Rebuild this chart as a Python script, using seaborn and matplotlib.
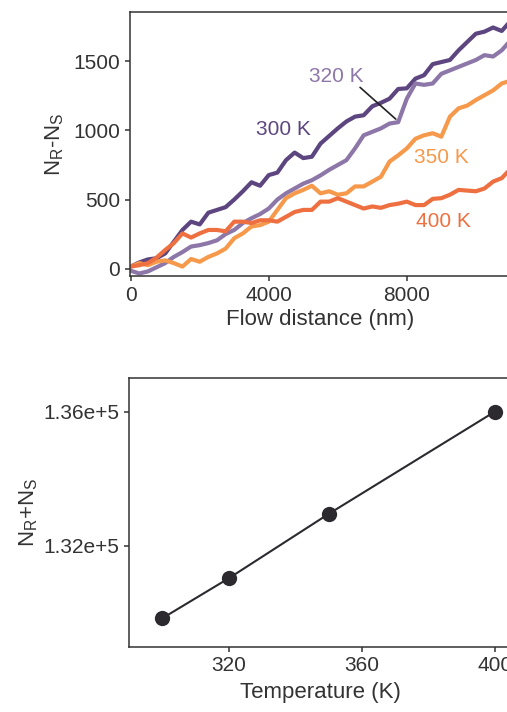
import pandas as pd
import matplotlib
matplotlib.use("Agg")
import matplotlib.pyplot as plt
import seaborn as sns

# flow distance grid (nm) and N_R - N_S
flow_nm = list(range(0, 11001, 250))

nrs_300 = [15, 45, 67, 75, 110, 195, 280, 340, 320, 405, 425, 445, 500, 560, 625,
           600, 677, 695, 785, 840, 800, 810, 905, 960, 1015, 1065, 1100, 1110, 1175,
           1200, 1230, 1300, 1305, 1375, 1400, 1480, 1495, 1510, 1580, 1640, 1700,
           1715, 1745, 1720, 1790]
nrs_320 = [-15, -35, -20, 10, 40, 85, 120, 160, 170, 185, 205, 250, 280, 330, 365,
           395, 435, 500, 545, 580, 615, 640, 675, 715, 750, 785, 870, 965, 990,
           1015, 1050, 1060, 1230, 1340, 1330, 1340, 1410, 1435, 1460, 1485, 1510,
           1545, 1535, 1580, 1650]
nrs_350 = [15, 40, 25, 50, 60, 40, 15, 70, 50, 85, 110, 145, 220, 255, 305,
           315, 340, 425, 510, 545, 570, 600, 545, 560, 535, 545, 595, 595, 630,
           665, 775, 820, 870, 940, 965, 980, 955, 1100, 1160, 1180, 1220, 1255,
           1290, 1340, 1360]
nrs_400 = [15, 25, 40, 80, 135, 185, 255, 225, 255, 280, 280, 270, 340, 340, 330,
           350, 350, 340, 375, 410, 425, 425, 485, 485, 510, 485, 460, 435, 450,
           440, 460, 470, 485, 460, 460, 505, 510, 535, 570, 565, 560, 580, 630,
           655, 720]

series_names = ["300 K", "320 K", "350 K", "400 K"]
series_colors = ["#5d4680", "#8d77a8", "#f6994b", "#ee7041"]

# bottom panel: N_R + N_S vs temperature
temps = [300, 320, 350, 400]
nr_plus_ns = [129833, 131027, 132946, 136000]

sns.set_theme(style="ticks")
plt.rcParams["font.family"] = ["Liberation Sans", "DejaVu Sans"]
plt.rcParams["mathtext.fontset"] = "custom"
plt.rcParams["mathtext.rm"] = "Liberation Sans"
ink = "#333333"
plt.rcParams.update({
    "text.color": ink, "axes.labelcolor": ink, "xtick.color": ink,
    "ytick.color": ink, "axes.edgecolor": ink, "axes.linewidth": 1.1,
    "xtick.major.width": 1.1, "ytick.major.width": 1.1,
    "xtick.major.size": 3.5, "ytick.major.size": 3.5,
    "font.size": 15, "axes.labelsize": 16,
    "xtick.labelsize": 15, "ytick.labelsize": 15,
})

fig = plt.figure(figsize=(5.07, 7.12), dpi=100)
ax1 = fig.add_axes([0.2564, 0.6124, 0.7502, 0.3707])
ax2 = fig.add_axes([0.2544, 0.0917, 0.7543, 0.3770])

df = pd.DataFrame({
    "x": flow_nm * 4,
    "y": nrs_300 + nrs_320 + nrs_350 + nrs_400,
    "T": sum([[n] * len(flow_nm) for n in series_names], []),
})
sns.lineplot(data=df, x="x", y="y", hue="T", palette=series_colors,
             linewidth=3.0, legend=False, ax=ax1, sort=False)

ax1.set_xlim(-20, 11000)
ax1.set_ylim(-53, 1857)
ax1.set_xticks([0, 4000, 8000])
ax1.set_yticks([0, 500, 1000, 1500])
ax1.set_xlabel("Flow distance (nm)", labelpad=3)
ax1.set_ylabel(r"N$_\mathregular{R}$-N$_\mathregular{S}$", labelpad=5)

ax1.text(3620, 1005, "300 K", color=series_colors[0], va="center", fontsize=15)
ax1.text(5160, 1390, "320 K", color=series_colors[1], va="center", fontsize=15)
ax1.text(8200, 807, "350 K", color=series_colors[2], va="center", fontsize=15)
ax1.text(8260, 344, "400 K", color=series_colors[3], va="center", fontsize=15)
ax1.plot([6645, 7681], [1312, 1082], color="#222222", lw=1.2)

sns.lineplot(x=temps, y=nr_plus_ns, color="#2c2a2f", linewidth=1.5,
             marker="o", markersize=11, markeredgewidth=0, ax=ax2)
ax2.set_xlim(290, 405)
ax2.set_ylim(128985, 136997)
ax2.set_xticks([320, 360, 400])
ax2.set_yticks([132000, 136000])
ax2.set_yticklabels(["1.32e+5", "1.36e+5"])
ax2.set_xlabel("Temperature (K)", labelpad=5)
ax2.set_ylabel(r"N$_\mathregular{R}$+N$_\mathregular{S}$", labelpad=2)

fig.savefig("out.png", dpi=100)
